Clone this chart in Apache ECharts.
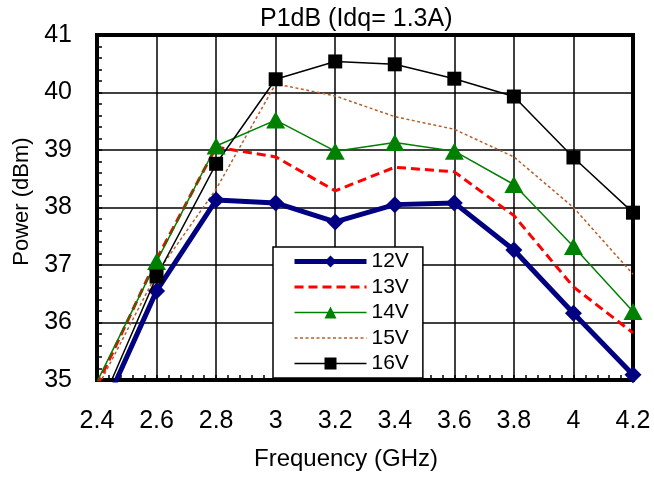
<!DOCTYPE html>
<html>
<head>
<meta charset="utf-8">
<script src="https://cdn.jsdelivr.net/npm/echarts@6/dist/echarts.min.js"></script>
<style>
html,body{margin:0;padding:0;background:#fff;}
#chart{width:654px;height:478px;}
</style>
</head>
<body>
<div id="chart"></div>
<script>
const freqs = [2.4, 2.6, 2.8, 3.0, 3.2, 3.4, 3.6, 3.8, 4.0, 4.2];
const v12 = [34.25, 36.55, 38.13, 38.08, 37.75, 38.05, 38.08, 37.26, 36.16, 35.09];
const v13 = [34.90, 37.10, 39.05, 38.88, 38.29, 38.70, 38.62, 37.86, 36.62, 35.82];
const v14 = [34.97, 37.06, 39.07, 39.52, 38.98, 39.13, 38.98, 38.40, 37.32, 36.19];
const v15 = [34.85, 36.85, 38.32, 40.15, 39.94, 39.58, 39.36, 38.88, 38.00, 36.84];
const v16 = [34.41, 36.80, 38.76, 40.23, 40.54, 40.49, 40.24, 39.93, 38.87, 37.91];
const seriesNames = ['12V', '13V', '14V', '15V', '16V'];
const titleText = 'P1dB (Idq= 1.3A)';
const xName = 'Frequency (GHz)';
const yName = 'Power (dBm)';

const FONT = '"Liberation Sans", Arial, sans-serif';
const pair = arr => freqs.map((f, i) => [f, arr[i]]);
const hidden = {color: 'rgba(0,0,0,0)', borderWidth: 0, opacity: 0};

const chart = echarts.init(document.getElementById('chart'), null, {renderer: 'canvas'});
chart.setOption({
  animation: false,
  backgroundColor: '#ffffff',
  title: {
    text: titleText,
    left: 260,
    top: 7,
    padding: 0,
    textStyle: {fontFamily: FONT, fontSize: 25, fontWeight: 'normal', color: '#000'}
  },
  grid: {
    left: 97, right: 21, top: 35, bottom: 98,
    show: true, borderColor: '#000', borderWidth: 4, backgroundColor: 'transparent'
  },
  legend: {
    orient: 'vertical',
    left: 273, top: 247,
    padding: [4, 14, 4, 19],
    itemWidth: 72, itemHeight: 15, itemGap: 4.5,
    backgroundColor: '#fff',
    borderColor: '#000', borderWidth: 1.5,
    textStyle: {fontFamily: FONT, fontSize: 21, color: '#000', lineHeight: 20},
    data: [
      {name: seriesNames[0], lineStyle: {width: 5, color: '#000080'}},
      {name: seriesNames[1], itemStyle: hidden, lineStyle: {width: 3, color: '#ff0000', type: [9, 5]}},
      {name: seriesNames[2], lineStyle: {width: 1.5, color: '#008000'}},
      {name: seriesNames[3], itemStyle: hidden, lineStyle: {width: 1.5, color: '#b5602c', type: [3, 2.5]}},
      {name: seriesNames[4], lineStyle: {width: 1.5, color: '#000000'}}
    ]
  },
  xAxis: {
    type: 'value', min: 2.4, max: 4.2, interval: 0.2,
    name: xName, nameLocation: 'middle', nameGap: 67,
    nameTextStyle: {fontFamily: FONT, fontSize: 24, color: '#000', padding: [0, 38, 0, 0]},
    axisLine: {show: true, lineStyle: {color: '#000', width: 4}},
    axisTick: {show: true, inside: true, length: 5, lineStyle: {color: '#000', width: 1.5}},
    minorTick: {show: true, splitNumber: 5, length: 5, lineStyle: {color: '#000', width: 1.5}},
    axisLabel: {fontFamily: FONT, fontSize: 25, color: '#000', margin: 29},
    splitLine: {show: true, lineStyle: {color: '#000', width: 1.5}}
  },
  yAxis: {
    type: 'value', min: 35, max: 41, interval: 1,
    name: yName, nameLocation: 'middle', nameGap: 64,
    nameTextStyle: {fontFamily: FONT, fontSize: 22, color: '#000', padding: [0, 0, 0, 12]},
    axisLine: {show: true, lineStyle: {color: '#000', width: 4}},
    axisTick: {show: true, inside: true, length: 5, lineStyle: {color: '#000', width: 1.5}},
    minorTick: {show: true, splitNumber: 5, length: 5, lineStyle: {color: '#000', width: 1.5}},
    axisLabel: {fontFamily: FONT, fontSize: 25, color: '#000', margin: 25},
    splitLine: {show: true, lineStyle: {color: '#000', width: 1.5}}
  },
  series: [
    {
      name: seriesNames[0], type: 'line', data: pair(v12), clip: true,
      symbol: 'diamond', symbolSize: 17,
      lineStyle: {color: '#000080', width: 5},
      itemStyle: {color: '#000080'}, z: 3
    },
    {
      name: seriesNames[1], type: 'line', data: pair(v13), clip: true,
      symbol: 'none',
      lineStyle: {color: '#ff0000', width: 3, type: [9, 5]},
      itemStyle: {color: '#ff0000'}, z: 3
    },
    {
      name: seriesNames[2], type: 'line', data: pair(v14), clip: true,
      symbol: 'triangle', symbolSize: [19, 17],
      lineStyle: {color: '#008000', width: 1.5},
      itemStyle: {color: '#008000'}, z: 4
    },
    {
      name: seriesNames[3], type: 'line', data: pair(v15), clip: true,
      symbol: 'none',
      lineStyle: {color: '#b5602c', width: 1.5, type: [3, 2.5]},
      itemStyle: {color: '#b5602c'}, z: 3
    },
    {
      name: seriesNames[4], type: 'line', data: pair(v16), clip: true,
      symbol: 'rect', symbolSize: 14,
      lineStyle: {color: '#000000', width: 1.5},
      itemStyle: {color: '#000000'}, z: 4
    }
  ]
});
</script>
</body>
</html>
